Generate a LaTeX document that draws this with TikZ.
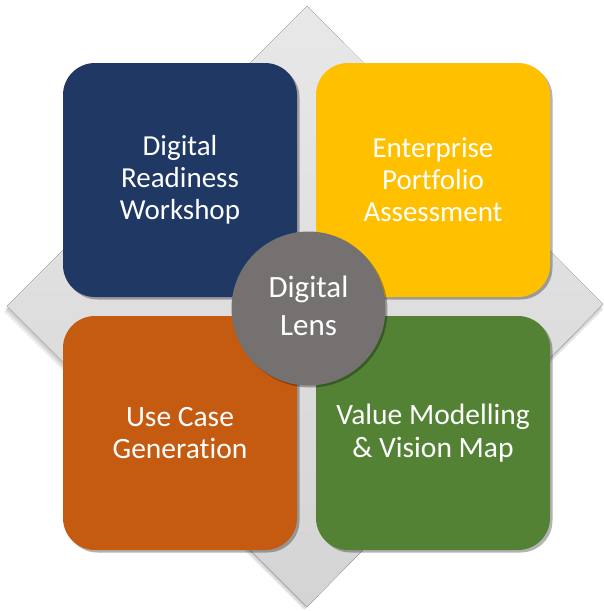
\documentclass[tikz,border=0pt]{standalone}
\usepackage{fontspec}
\setmainfont{Carlito}[Ligatures=NoCommon]
\usetikzlibrary{shadows}
\tikzset{
  tile/.style={
    rectangle,
    rounded corners=32pt,
    minimum size=234pt,
    inner sep=0pt,
    text=white,
    align=center,
    drop shadow={shadow xshift=2.5pt, shadow yshift=-2.5pt, opacity=0.3, fill=black}
  },
  tile-text/.style={font=\fontsize{29}{32}\selectfont},
  tile-text-big/.style={font=\fontsize{29.5}{32.5}\selectfont},
  lens/.style={
    circle,
    fill=lensgray,
    minimum size=154pt,
    inner sep=0pt,
    drop shadow={shadow xshift=2pt, shadow yshift=-2pt, opacity=0.3, fill=black}
  },
  lens-text/.style={text=white, align=center, font=\fontsize{31}{38}\selectfont},
  backdrop/.style={top color=diamondtop, bottom color=diamondbottom, draw=none},
  backdrop-shadow/.style={fill=black, opacity=0.07}
}
\definecolor{navy}{RGB}{32,56,100}
\definecolor{amber}{RGB}{255,192,0}
\definecolor{rust}{RGB}{197,90,17}
\definecolor{leaf}{RGB}{84,130,53}
\definecolor{lensgray}{RGB}{118,113,113}
\definecolor{diamondtop}{RGB}{232,232,232}
\definecolor{diamondbottom}{RGB}{212,212,212}

\begin{document}
\begin{tikzpicture}[x=1pt, y=-1pt]
  \useasboundingbox (0,0) rectangle (603,611);
  % backdrop diamond with a soft shadow
  \foreach \s in {2,4,6}
    \fill[backdrop-shadow] (307-\s/2,6+\s) -- (7-\s/2,306+\s) -- (307-\s/2,607+\s/2) -- (603,304+\s) -- cycle;
  \fill[backdrop] (307,6) -- (7,306) -- (307,607) -- (603,304) -- cycle;
  % four tiles
  \node[tile, fill=navy, tile-text] (readiness) at (180,180) {Digital\\Readiness\\Workshop};
  \node[tile, fill=amber, tile-text] (portfolio) at (433,180) {Enterprise\\Portfolio\\Assessment};
  \node[tile, fill=rust, tile-text-big] (usecase) at (180,433) {Use Case\\Generation};
  \node[tile, fill=leaf, tile-text-big] (valuemap) at (433,433) {Value Modelling\\\& Vision Map};
  % centre
  \node[lens] (centre) at (308.5,308.5) {};
  \node[lens-text] (centre-text) at ([yshift=3pt]centre.center) {Digital\\Lens};
\end{tikzpicture}
\end{document}
